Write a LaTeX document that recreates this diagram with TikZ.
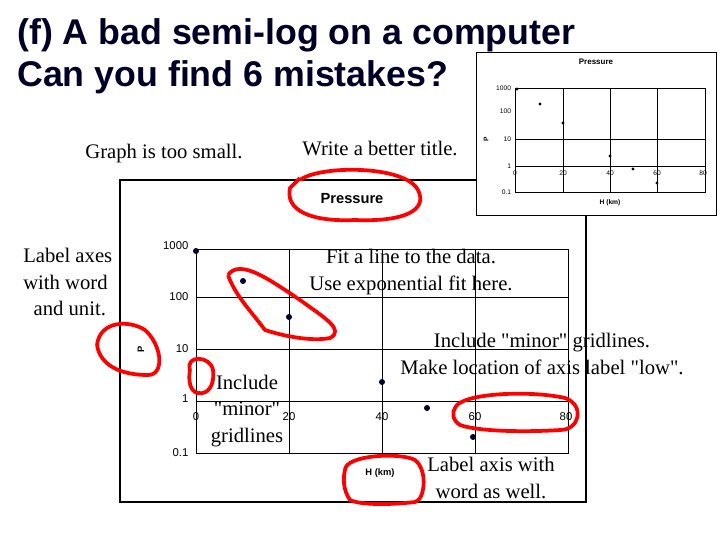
\documentclass[tikz,border=0pt]{standalone}
\usepackage{fontspec}
\setmainfont{Liberation Serif}
\newfontfamily\arialf{Liberation Sans}
\newcommand{\dq}{{\XeTeXglyph\XeTeXcharglyph"0022\relax}}
\begin{document}
\begin{tikzpicture}[x=0.75pt,y=-0.75pt,
  ann/.style={font=\fontsize{15.5}{20}\selectfont,align=center,inner sep=0pt},
  ax/.style={font=\arialf\fontsize{8.5}{10}\selectfont,inner sep=1pt},
  sax/.style={font=\arialf\fontsize{5}{6}\selectfont,inner sep=0.5pt},
  pt/.style={circle,fill=black!80!blue,inner sep=0pt,minimum size=4.5pt},
  spt/.style={circle,fill=black,inner sep=0pt,minimum size=2.5pt},
  loop/.style={red,line width=2.8pt,line join=round}]
\useasboundingbox (0,0) rectangle (720,540);
\fill[white] (0,0) rectangle (720,540);
\node[anchor=west,font=\arialf\bfseries\fontsize{26.8}{30}\selectfont,text=black!85!blue,inner sep=0pt] (t1) at (17,35) {(f) A bad semi-log on a computer};
\node[anchor=west,font=\arialf\bfseries\fontsize{26.8}{30}\selectfont,text=black!85!blue,inner sep=0pt] (t2) at (17,77) {Can you find 6 mistakes?};
% big chart
\draw[line width=1.2pt] (120,180) rectangle (586,502);
\draw[line width=0.6pt] (196,249) rectangle (568,453);
\foreach \x in {289,382,475} \draw[line width=0.6pt] (\x,249) -- (\x,453);
\foreach \y in {297,349,401} \draw[line width=0.6pt] (196,\y) -- (568,\y);
\foreach \v/\y in {1000/246,100/297,10/349,1/399,0.1/453} \node[ax,anchor=east] at (190,\y) {\v};
\foreach \v/\x in {0/196,20/289,40/382,60/475,80/566} \node[ax] at (\x,417) {\v};
\node[font=\arialf\bfseries\fontsize{11}{13}\selectfont] (ptitle) at (352,199) {Pressure};
\node[font=\arialf\bfseries\fontsize{7}{8}\selectfont] (hkm) at (380,473) {H (km)};
\node[font=\arialf\bfseries\fontsize{7}{8}\selectfont,rotate=90] (plab) at (141,349) {P};
\foreach \n/\x/\y in {a/196/251,b/243/281,c/289/317,d/382/382,e/427/408,f/473/437} \node[pt] (\n) at (\x,\y) {};
% small chart
\draw[line width=0.5pt,fill=white] (476,52) rectangle (716,215);
\draw[line width=0.4pt] (515,88) rectangle (705,192);
\foreach \x in {563,610,657} \draw[line width=0.4pt] (\x,88) -- (\x,192);
\foreach \y in {139,166} \draw[line width=0.4pt] (515,\y) -- (705,\y);
\node[font=\arialf\bfseries\fontsize{6}{7}\selectfont] (stitle) at (596,62) {Pressure};
\foreach \v/\y in {1000/88,100/111,10/139,1/166,0.1/192} \node[sax,anchor=east] at (512,\y) {\v};
\foreach \v/\x in {0/515,20/563,40/610,60/657,80/703} \node[sax] at (\x,173) {\v};
\node[font=\arialf\bfseries\fontsize{5}{6}\selectfont,inner sep=0.5pt] (shkm) at (610,203) {H (km)};
\node[font=\arialf\bfseries\fontsize{5}{6}\selectfont,inner sep=0.5pt,rotate=90] (sp) at (486,139) {P};
\foreach \n/\x/\y in {sa/517/89,sb/540/104,sc/563/123,sd/610/156,se/633/169,sf/657/183} \node[spt] (\n) at (\x,\y) {};
% annotations
\node[ann] (g) at (164,154) {Graph is too small.};
\node[ann] (w) at (380,148) {Write a better title.};
\node[ann,align=left,anchor=west] (la) at (23,282) {Label axes\\with word\\\ \ and unit.};
\node[ann] (fit) at (411,272) {Fit a line to the data.\\Use exponential fit here.};
\node[ann] (minor) at (542,354) {Include \dq minor\dq\ gridlines.\\Make location of axis label \dq low\dq.};
\node[ann] (inc) at (247,411) {Include\\\dq minor\dq\\gridlines};
\node[ann] (lw) at (491,478) {Label axis with\\word as well.};
% red loops
\draw[loop] (300,180) .. controls (320,165) and (405,165) .. (418,190) .. controls (428,210) and (405,222) .. (355,220) .. controls (310,222) and (285,210) .. (290,188) -- (300,178);
\draw[loop] (228,275) .. controls (240,258) and (270,280) .. (300,300) .. controls (325,318) and (345,330) .. (330,338) .. controls (310,342) and (280,335) .. (265,330) .. controls (250,310) and (235,295) .. (228,275);
\draw[loop] (97,345) .. controls (100,320) and (130,320) .. (145,330) .. controls (162,345) and (165,375) .. (148,375) .. controls (120,375) and (100,365) .. (97,345);
\draw[loop] (190,370) .. controls (185,355) and (210,355) .. (213,370) .. controls (215,385) and (208,395) .. (198,393) .. controls (190,392) and (188,380) .. (190,370);
\draw[loop] (455,408) .. controls (460,393) and (530,390) .. (565,398) .. controls (585,405) and (580,430) .. (560,430) .. controls (530,432) and (480,432) .. (460,425) .. controls (452,420) and (452,412) .. (455,408);
\draw[loop] (345,470) .. controls (345,455) and (400,452) .. (415,460) .. controls (428,470) and (425,500) .. (415,502) .. controls (390,505) and (360,505) .. (350,500) .. controls (343,490) and (343,478) .. (345,470);
\end{tikzpicture}
\end{document}
